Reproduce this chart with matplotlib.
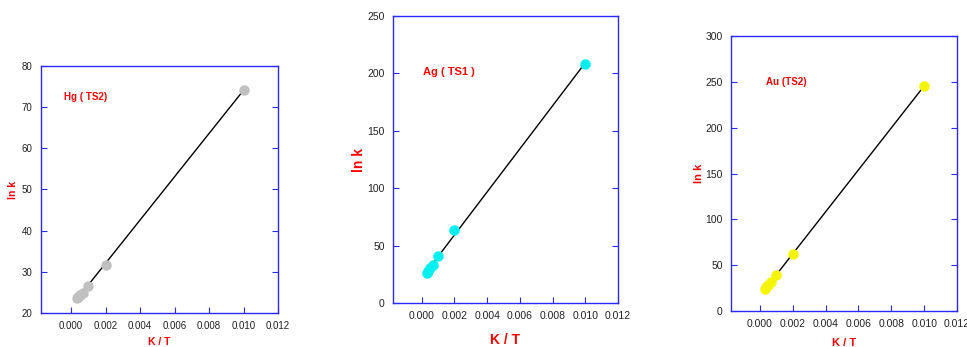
import numpy as np
import matplotlib
matplotlib.use("Agg")
import matplotlib.pyplot as plt

plt.rcParams['font.family'] = ['Liberation Sans', 'DejaVu Sans']

# 1/T values (K/T) shared by all three panels
inv_T = [0.000333, 0.0004, 0.0005, 0.000667, 0.001, 0.002, 0.010]

# ln k for each metal
hg_lnk = [23.6, 24.0, 24.4, 24.9, 26.6, 31.7, 74.2]
ag_lnk = [26.0, 28.0, 30.5, 33.5, 41.0, 63.6, 208.5]
au_lnk = [23.6, 26.0, 28.5, 31.3, 39.3, 62.2, 245.5]

x_ticks = [0.000, 0.002, 0.004, 0.006, 0.008, 0.010, 0.012]

panels = [
    # axes rect in px (left, top, right, bottom), text pos and label positions in axes fraction
    dict(label="Hg ( TS2)", y=hg_lnk, color="#c0c0c0", yticks=range(20, 81, 10),
         rect=(41, 66, 278, 313), txt=(0.097, 0.875), fs_txt=7, fs_lab=7.5, fs_tick=7,
         xlab=(0.5, -0.097), ylab=(-0.099, 0.5)),
    dict(label="Ag ( TS1 )", y=ag_lnk, color="#00f0f0", yticks=range(0, 251, 50),
         rect=(393, 16, 618, 303), txt=(0.133, 0.805), fs_txt=8, fs_lab=10, fs_tick=7.5,
         xlab=(0.5, -0.105), ylab=(-0.12, 0.5)),
    dict(label="Au (TS2)", y=au_lnk, color="#f5f500", yticks=range(0, 301, 50),
         rect=(731, 36, 957, 311), txt=(0.155, 0.833), fs_txt=7, fs_lab=8, fs_tick=7.5,
         xlab=(0.5, -0.098), ylab=(-0.119, 0.5)),
]

W, H = 967, 347
fig = plt.figure(figsize=(W / 100, H / 100), dpi=100)
blue = "#2a2aff"

for p in panels:
    l, t, r, b = p["rect"]
    ax = fig.add_axes([l / W, 1 - b / H, (r - l) / W, (b - t) / H])
    x = np.array(inv_T)
    y = np.array(p["y"])
    k, c = np.polyfit(x, y, 1)
    xs = np.array([0.0008, x.max()])
    ax.plot(xs, k * xs + c, color="black", lw=1, zorder=2)
    ax.plot(x, y, 'o', color=p["color"], ms=6.5, mec=p["color"], zorder=3)

    ax.set_xlim(-0.00175, 0.012)
    ax.set_ylim(min(p["yticks"]), max(p["yticks"]))
    ax.set_xticks(x_ticks)
    ax.set_xticklabels(["%.3f" % v for v in x_ticks])
    ax.set_yticks(list(p["yticks"]))
    for s in ax.spines.values():
        s.set_color(blue)
        s.set_linewidth(1)
    ax.tick_params(direction='in', colors=blue, labelcolor="#222222",
                   labelsize=p["fs_tick"], length=4, right=True, top=False, pad=6)

    ax.set_xlabel("K / T", color="red", fontweight="bold", fontsize=p["fs_lab"])
    ax.set_ylabel("ln k", color="red", fontweight="bold", fontsize=p["fs_lab"])
    ax.xaxis.set_label_coords(*p["xlab"])
    ax.yaxis.set_label_coords(*p["ylab"])
    ax.text(p["txt"][0], p["txt"][1], p["label"], transform=ax.transAxes, color="red",
            fontweight="bold", fontsize=p["fs_txt"], ha="left", va="center")

fig.savefig("out.png", dpi=100)
